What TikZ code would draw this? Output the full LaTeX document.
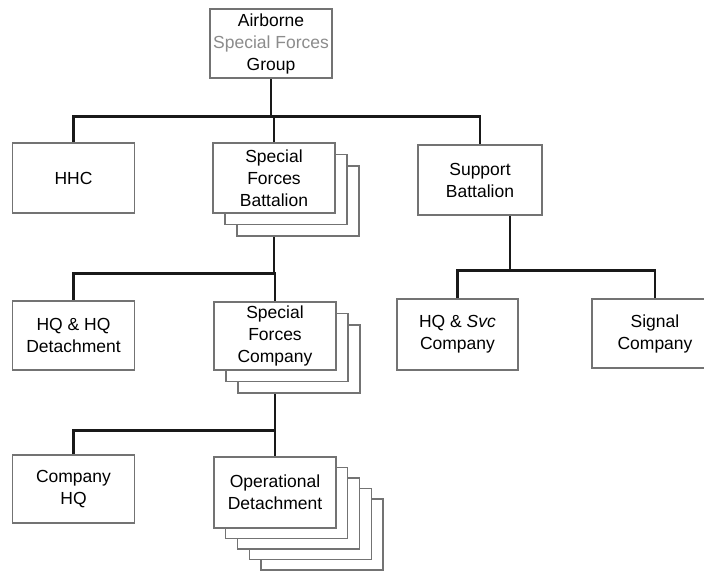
\documentclass[tikz,border=0pt]{standalone}
\usepackage{fontspec}
\setmainfont{Liberation Sans}
\usetikzlibrary{shadows,backgrounds}

\begin{document}
\begin{tikzpicture}[x=1pt,y=-1pt,
    unit/.style={draw=black!55,line width=1.1pt,fill=white,minimum width=122pt,minimum height=70pt,
      inner sep=2pt,align=center,font=\fontsize{17.5}{22}\selectfont},
    stack/.style={copy shadow={shadow xshift=24pt,shadow yshift=-23pt},
      copy shadow={shadow xshift=12pt,shadow yshift=-11.5pt}},
    bigstack/.style={copy shadow={shadow xshift=47pt,shadow yshift=-42pt},
      copy shadow={shadow xshift=35.25pt,shadow yshift=-31.5pt},
      copy shadow={shadow xshift=23.5pt,shadow yshift=-21pt},
      copy shadow={shadow xshift=11.75pt,shadow yshift=-10.5pt}},
    link/.style={line width=2.4pt,black!90}]
  \useasboundingbox (0,0) rectangle (704,571);

  \node[unit,minimum height=69pt] (group) at (271,43.5) {Airborne\\\textcolor{black!45}{Special Forces}\\Group};
  \node[unit] (hhc) at (73.5,178) {HHC};
  \node[unit,stack] (sfbn) at (274,178) {Special\\Forces\\Battalion};
  \node[unit,minimum width=124pt] (supbn) at (480,180) {Support\\Battalion};
  \node[unit,minimum height=69pt] (hqdet) at (73.5,335.5) {HQ \& HQ\\Detachment};
  \node[unit,stack,minimum height=68pt] (sfco) at (275,336) {Special\\Forces\\Company};
  \node[unit,minimum width=121pt,minimum height=71pt] (hqsvc) at (457.5,334.5) {HQ \& \textit{Svc}\\Company};
  \node[unit,minimum width=126pt,minimum height=69pt] (signal) at (655,333.5) {Signal\\Company};
  \node[unit,minimum height=68pt] (cohq) at (73.5,489) {Company\\HQ};
  \node[unit,bigstack,minimum height=71pt] (opdet) at (275,492.5) {Operational\\Detachment};

  \begin{scope}[on background layer]
    \draw[link] (group.south) -- ++(0,38) coordinate (top);
    \draw[link] (hhc.north) |- (top) -| (supbn.north);
    \draw[link] (sfbn.north) -- (sfbn.north |- top);
    \draw[link] (sfbn.south) -- ++(0,60) coordinate (mid);
    \draw[link] (hqdet.north) |- (mid) -| (sfco.north);
    \draw[link] ([xshift=30pt]supbn.south) -- ++(0,55) coordinate (right);
    \draw[link] (hqsvc.north) |- (right) -| (signal.north);
    \draw[link] (sfco.south) -- ++(0,60) coordinate (low);
    \draw[link] (cohq.north) |- (low) -| (opdet.north);
  \end{scope}
\end{tikzpicture}
\end{document}
